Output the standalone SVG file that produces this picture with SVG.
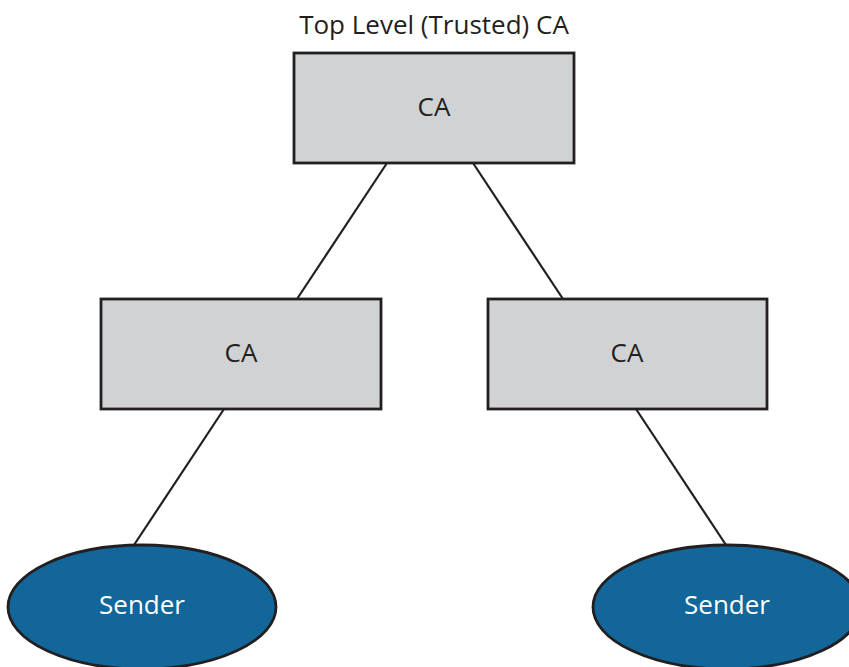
<svg xmlns="http://www.w3.org/2000/svg" width="849" height="667" viewBox="0 0 849 667">
  <style>
    .box { fill: #d1d2d4; stroke: #231f20; stroke-width: 2.8; }
    .sender { fill: #12669a; stroke: #231f20; stroke-width: 2.8; }
    .link { stroke: #231f20; stroke-width: 2.2; fill: none; }
    .lbl { font-family: "Open Sans", "Liberation Sans", sans-serif; font-size: 26px; text-anchor: middle; fill: #231f20; }
    .lbl-w { fill: #ffffff; }
  </style>
  <rect width="849" height="667" fill="#ffffff"/>

  <g id="connectors">
    <line class="link" x1="387" y1="163" x2="297" y2="299"/>
    <line class="link" x1="473" y1="163" x2="563" y2="299"/>
    <line class="link" x1="224" y1="409" x2="134" y2="545"/>
    <line class="link" x1="636" y1="409" x2="726" y2="545"/>
  </g>

  <g id="root-ca">
    <text class="lbl" x="434" y="34">Top Level (Trusted) CA</text>
    <rect class="box" x="294" y="53" width="280" height="110"/>
    <text class="lbl" x="434" y="116">CA</text>
  </g>

  <g id="ca-left">
    <rect class="box" x="101" y="299" width="280" height="110"/>
    <text class="lbl" x="241" y="362">CA</text>
  </g>

  <g id="ca-right">
    <rect class="box" x="488" y="299" width="279" height="110"/>
    <text class="lbl" x="627" y="362">CA</text>
  </g>

  <g id="sender-left">
    <ellipse class="sender" cx="142" cy="607" rx="134" ry="62"/>
    <text class="lbl lbl-w" x="142" y="614">Sender</text>
  </g>

  <g id="sender-right">
    <ellipse class="sender" cx="727" cy="607" rx="134" ry="62"/>
    <text class="lbl lbl-w" x="727" y="614">Sender</text>
  </g>
</svg>
